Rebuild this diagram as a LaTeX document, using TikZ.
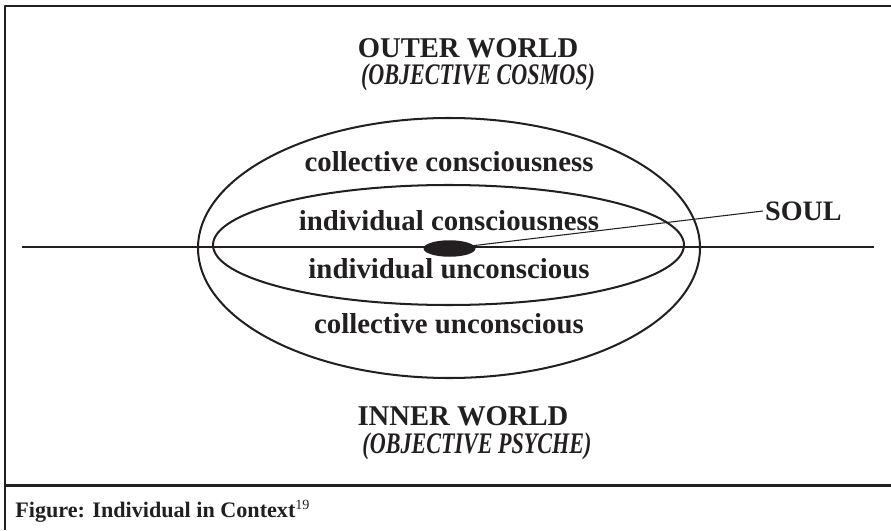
\documentclass[tikz,border=0pt]{standalone}
\usepackage{fontspec}
\setmainfont{Liberation Serif}
\newfontfamily\narrowserif[FakeStretch=0.74]{Liberation Serif}
\usepackage{tikz}
\usetikzlibrary{shapes.geometric}
\definecolor{inkblack}{RGB}{35,31,32}

\begin{document}
\begin{tikzpicture}[x=0.02cm, y=-0.02cm, line cap=butt, line join=round,
  frameline/.style={inkblack, line width=1.7pt},
  ringline/.style={inkblack, line width=1.15pt},
  worldtext/.style={inkblack, font=\fontsize{16.3}{18}\selectfont\bfseries, inner sep=0pt, anchor=base},
  worldsub/.style={inkblack, font=\fontsize{17}{18}\narrowserif\bfseries\itshape, inner sep=0pt, anchor=base},
  layertext/.style={inkblack, font=\fontsize{16.4}{19}\selectfont\bfseries, inner sep=0pt, anchor=base}]
  \path[use as bounding box] (0,0) rectangle (891,530);

  % Frame and caption strip
  \draw[frameline] (5,530) -- (5,6) -- (891,6);
  \draw[frameline] (5,485) -- (891,485);
  \node[inkblack, font=\fontsize{12.6}{15}\selectfont\bfseries, anchor=base west, inner sep=0pt]
    (caption) at (15,517) {Figure: Individual in Context\textsuperscript{\mdseries\fontsize{8}{9}\selectfont 19}};

  % Horizon between outer and inner world
  \coordinate (hleft) at (22,247);
  \coordinate (hright) at (874,247);
  \draw[inkblack, line width=1.45pt] (hleft) -- (hright);

  % Collective and individual rings
  \draw[ringline] (449,248) ellipse [x radius=251, y radius=130];
  \draw[ringline] (448.5,245) ellipse [x radius=235.5, y radius=60];

  % Soul
  \node[ellipse, fill=inkblack, minimum width=1.04cm, minimum height=0.33cm, inner sep=0pt] (soulblob) at (449.5,248.5) {};
  \node[inkblack, font=\fontsize{16}{18}\selectfont\bfseries, anchor=west, inner sep=1pt] (soul) at (763,211) {SOUL};
  \draw[inkblack, line width=0.6pt] (soulblob.center) -- (soul.west);

  % Layer labels
  \node[layertext] (colcon) at (449,172) {collective consciousness};
  \node[layertext] (indcon) at (449,230) {individual consciousness};
  \node[layertext] (indunc) at (449,278) {individual unconscious};
  \node[layertext] (colunc) at (449,333) {collective unconscious};

  % Worlds
  \node[worldtext] (outer) at (468,58) {OUTER WORLD};
  \node[worldsub] (outersub) at (478,85) {(OBJECTIVE COSMOS)};
  \node[worldtext] (inner) at (463,425) {INNER WORLD};
  \node[worldsub] (innersub) at (477,453) {(OBJECTIVE PSYCHE)};
\end{tikzpicture}
\end{document}
